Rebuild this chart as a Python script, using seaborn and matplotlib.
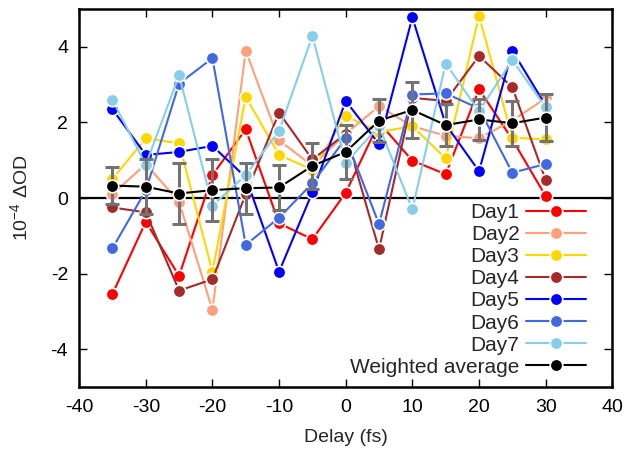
import numpy as np
import pandas as pd
import matplotlib
matplotlib.use("Agg")
import matplotlib.pyplot as plt
from matplotlib.lines import Line2D
import seaborn as sns

# Pump-probe delays (fs)
delay = [-35, -30, -25, -20, -15, -10, -5, 0, 5, 10, 15, 20, 25, 30]

# Differential optical density per measurement day (units of 1e-4)
day1 = [-2.54, -0.63, -2.06, 0.61, 1.82, -0.67, -1.09, 0.14, 2.00, 0.99, 0.63, 2.88, 1.55, 0.05]
day2 = [0.10, 0.90, -0.10, -2.96, 3.90, 1.53, 0.85, 1.70, 2.43, 1.90, 1.65, 1.58, 2.05, 2.64]
day3 = [0.50, 1.58, 1.45, -1.95, 2.68, 1.14, 0.75, 2.17, 1.75, 1.90, 1.05, 4.82, 1.60, 1.55]
day4 = [-0.25, -0.38, -2.45, -2.15, 0.10, 2.26, 1.02, 1.70, -1.36, 2.65, 2.57, 3.76, 2.93, 0.48]
day5 = [2.35, 1.14, 1.22, 1.38, 0.55, -1.95, 0.15, 2.57, 1.43, 4.78, 1.95, 0.71, 3.90, 2.45]
day6 = [-1.33, 0.20, 3.03, 3.70, -1.24, -0.52, 0.39, 1.58, -0.69, 2.74, 2.77, 2.37, 0.67, 0.90]
day7 = [2.60, 0.88, 3.25, -0.20, 0.61, 1.78, 4.29, 0.93, 1.90, -0.30, 3.56, 2.30, 3.65, 2.40]

# Weighted average over days and its uncertainty
weighted = [0.33, 0.30, 0.12, 0.21, 0.26, 0.28, 0.85, 1.22, 2.05, 2.33, 1.93, 2.08, 1.98, 2.13]
weighted_err = [0.50, 0.72, 0.82, 0.83, 0.67, 0.59, 0.61, 0.71, 0.57, 0.73, 0.55, 0.54, 0.60, 0.62]

day_names = ["Day1", "Day2", "Day3", "Day4", "Day5", "Day6", "Day7"]
day_values = [day1, day2, day3, day4, day5, day6, day7]
day_colors = ["#ff0000", "#ffa07a", "#ffd700", "#a52a2a", "#0000ff", "#4169e1", "#87ceeb"]

x_ticks = [-40, -30, -20, -10, 0, 10, 20, 30, 40]
y_ticks = [-4, -2, 0, 2, 4]

sns.set_style("ticks")
plt.rcParams["font.family"] = ["Liberation Sans", "DejaVu Sans"]
plt.rcParams["axes.unicode_minus"] = False
plt.rcParams["mathtext.fontset"] = "custom"
plt.rcParams["mathtext.rm"] = "Liberation Sans"
plt.rcParams["mathtext.it"] = "Liberation Sans"

long = pd.DataFrame({
    "delay": np.tile(delay, len(day_names)),
    "signal": np.concatenate(day_values),
    "day": np.repeat(day_names, len(delay)),
})
avg = pd.DataFrame({"delay": delay, "signal": weighted, "err": weighted_err})

fig = plt.figure(figsize=(6.28, 4.55), dpi=100)
ax = fig.add_axes([0.126, 0.1495, 0.849, 0.8305])

ax.axhline(0, color="black", lw=1.6, zorder=0)

line_kw = dict(marker="o", markersize=9, markeredgecolor="white",
               markeredgewidth=1.2, linewidth=1.5)

sns.lineplot(data=long, x="delay", y="signal", hue="day", hue_order=day_names,
             palette=day_colors, ax=ax, legend=False, errorbar=None, **line_kw)

ax.errorbar(avg["delay"], avg["signal"], yerr=avg["err"], fmt="none",
            ecolor="#737373", elinewidth=2.2, capsize=5, capthick=2.2, zorder=5)

sns.lineplot(data=avg, x="delay", y="signal", color="black", ax=ax,
             errorbar=None, zorder=6, **line_kw)

# Legend entries: label on the left, line-and-marker sample on the right
handles = [Line2D([], [], color=c, **line_kw) for c in day_colors]
handles.append(Line2D([], [], color="black", **line_kw))
labels = day_names + ["Weighted average"]
ax.legend(handles, labels, loc="lower right", bbox_to_anchor=(0.951, 0.027),
          markerfirst=False, frameon=False, fontsize=15, handlelength=2.9,
          handletextpad=0.3, labelspacing=0.15, borderaxespad=0, borderpad=0)

ax.set_xlim(-40, 40)
ax.set_ylim(-5, 5)
ax.set_xticks(x_ticks)
ax.set_yticks(y_ticks)
ax.set_xlabel("Delay (fs)", fontsize=14, labelpad=9)
ax.set_ylabel(r"10$^{-4}$ ΔOD", fontsize=14, labelpad=14)
ax.tick_params(direction="in", length=6, width=1, top=True, right=True,
               labelsize=14, colors="black")
ax.tick_params(axis="x", pad=9)
ax.tick_params(axis="y", pad=8)
for s in ax.spines.values():
    s.set_linewidth(1.8)
    s.set_color("black")

fig.savefig("out.png", dpi=100)
